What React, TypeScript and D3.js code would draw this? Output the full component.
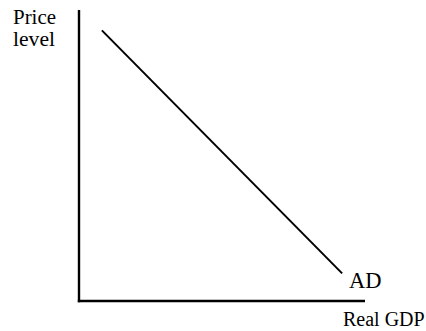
import React from "react";
import * as d3 from "d3";

const W = 426;
const H = 331;

// Data (abstract units)
const axisDomainX = [0, 10];
const axisDomainY = [0, 10];
const adQuantity = [0.8, 9.2];
const adPrice = [9.3, 0.95];
const yAxisLabelLines = ["Price", "level"];
const xAxisLabel = "Real GDP";
const curveLabel = "AD";

export default function App() {
  const x = d3.scaleLinear().domain(axisDomainX).range([79, 365]);
  const y = d3.scaleLinear().domain(axisDomainY).range([301, 10]);
  const pts: [number, number][] = adQuantity.map((q, i) => [x(q), y(adPrice[i])]);
  const line = d3.line();
  const font = "'Liberation Serif', 'Times New Roman', serif";
  return (
    <svg
      width={W}
      height={H}
      style={{ position: "absolute", left: 0, top: 0, background: "#fff" }}
    >
      <rect width={W} height={H} fill="#fff" />
      {/* axes */}
      <line x1={x(0)} y1={y(10)} x2={x(0)} y2={y(0) + 1.2} stroke="#000" strokeWidth={2.4} />
      <line x1={x(0) - 1.2} y1={y(0)} x2={x(10)} y2={y(0)} stroke="#000" strokeWidth={2.6} />
      {/* AD curve */}
      <path d={line(pts) || ""} fill="none" stroke="#000" strokeWidth={2} />
      {/* labels */}
      <text x={13} y={24} fontFamily={font} fontSize={20} textLength={43} lengthAdjust="spacingAndGlyphs" fill="#000">
        {yAxisLabelLines[0]}
      </text>
      <text x={13} y={46} fontFamily={font} fontSize={20} textLength={42} lengthAdjust="spacingAndGlyphs" fill="#000">
        {yAxisLabelLines[1]}
      </text>
      <text x={349} y={288} fontFamily={font} fontSize={22.5} fill="#000">
        {curveLabel}
      </text>
      <text x={343} y={326} fontFamily={font} fontSize={20} fill="#000">
        {xAxisLabel}
      </text>
    </svg>
  );
}
